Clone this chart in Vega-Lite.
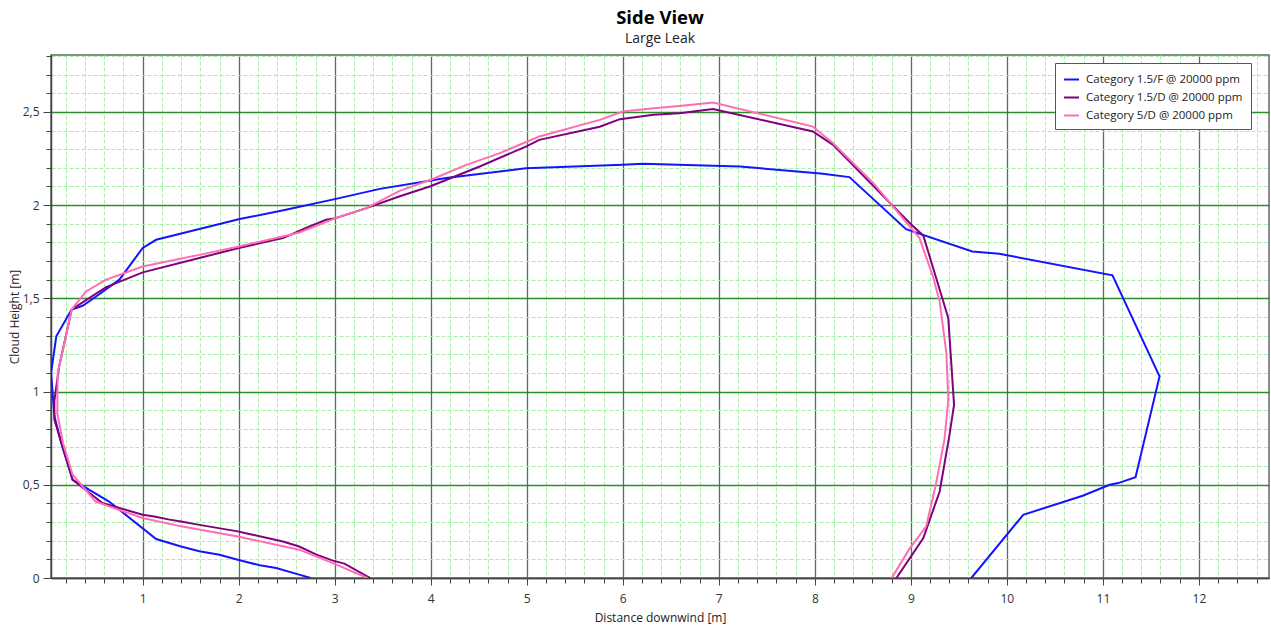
{
  "$schema": "https://vega.github.io/schema/vega-lite/v6.json",
  "autosize": "none",
  "width": 1218,
  "height": 523,
  "padding": {"left": 51, "top": 55, "right": 2, "bottom": 50},
  "background": "white",
  "title": {
    "text": "Side View",
    "subtitle": "Large Leak",
    "anchor": "middle",
    "frame": "group",
    "font": "Open Sans",
    "fontSize": 18.5,
    "fontWeight": "bold",
    "color": "#000000",
    "subtitleFont": "Open Sans",
    "subtitleFontSize": 14,
    "subtitleColor": "#222222",
    "subtitlePadding": 4,
    "offset": 4
  },
  "config": {
    "view": {"stroke": "#666666", "strokeWidth": 1.5},
    "axis": {
      "labelFont": "Open Sans",
      "labelFontSize": 12,
      "labelColor": "#333333",
      "titleFont": "Open Sans",
      "titleFontSize": 12,
      "titleFontWeight": "normal",
      "titleColor": "#222222",
      "domainColor": "#444444",
      "domainWidth": 1.5,
      "tickColor": "#444444",
      "labelOverlap": false,
      "labelFlush": false,
      "gridOpacity": 1
    }
  },
  "data": {
    "values": [
      {"s": "Category 1.5/F @ 20000 ppm", "i": 0, "x": 2.75, "y": 0},
      {"s": "Category 1.5/F @ 20000 ppm", "i": 1, "x": 2.63, "y": 0.018},
      {"s": "Category 1.5/F @ 20000 ppm", "i": 2, "x": 2.39, "y": 0.054},
      {"s": "Category 1.5/F @ 20000 ppm", "i": 3, "x": 2.22, "y": 0.068},
      {"s": "Category 1.5/F @ 20000 ppm", "i": 4, "x": 1.99, "y": 0.098},
      {"s": "Category 1.5/F @ 20000 ppm", "i": 5, "x": 1.8, "y": 0.125},
      {"s": "Category 1.5/F @ 20000 ppm", "i": 6, "x": 1.59, "y": 0.143},
      {"s": "Category 1.5/F @ 20000 ppm", "i": 7, "x": 1.4, "y": 0.169},
      {"s": "Category 1.5/F @ 20000 ppm", "i": 8, "x": 1.14, "y": 0.209},
      {"s": "Category 1.5/F @ 20000 ppm", "i": 9, "x": 0.65, "y": 0.41},
      {"s": "Category 1.5/F @ 20000 ppm", "i": 10, "x": 0.27, "y": 0.527},
      {"s": "Category 1.5/F @ 20000 ppm", "i": 11, "x": 0.15, "y": 0.725},
      {"s": "Category 1.5/F @ 20000 ppm", "i": 12, "x": 0.08, "y": 0.87},
      {"s": "Category 1.5/F @ 20000 ppm", "i": 13, "x": 0.046, "y": 1.1},
      {"s": "Category 1.5/F @ 20000 ppm", "i": 14, "x": 0.1, "y": 1.296},
      {"s": "Category 1.5/F @ 20000 ppm", "i": 15, "x": 0.26, "y": 1.44},
      {"s": "Category 1.5/F @ 20000 ppm", "i": 16, "x": 0.375, "y": 1.46},
      {"s": "Category 1.5/F @ 20000 ppm", "i": 17, "x": 0.515, "y": 1.51},
      {"s": "Category 1.5/F @ 20000 ppm", "i": 18, "x": 0.757, "y": 1.6},
      {"s": "Category 1.5/F @ 20000 ppm", "i": 19, "x": 1.0, "y": 1.77},
      {"s": "Category 1.5/F @ 20000 ppm", "i": 20, "x": 1.14, "y": 1.814},
      {"s": "Category 1.5/F @ 20000 ppm", "i": 21, "x": 2.01, "y": 1.925},
      {"s": "Category 1.5/F @ 20000 ppm", "i": 22, "x": 2.49, "y": 1.975},
      {"s": "Category 1.5/F @ 20000 ppm", "i": 23, "x": 3.0, "y": 2.032},
      {"s": "Category 1.5/F @ 20000 ppm", "i": 24, "x": 3.47, "y": 2.087},
      {"s": "Category 1.5/F @ 20000 ppm", "i": 25, "x": 4.16, "y": 2.145},
      {"s": "Category 1.5/F @ 20000 ppm", "i": 26, "x": 4.99, "y": 2.198},
      {"s": "Category 1.5/F @ 20000 ppm", "i": 27, "x": 6.0, "y": 2.216},
      {"s": "Category 1.5/F @ 20000 ppm", "i": 28, "x": 6.21, "y": 2.222},
      {"s": "Category 1.5/F @ 20000 ppm", "i": 29, "x": 7.22, "y": 2.207},
      {"s": "Category 1.5/F @ 20000 ppm", "i": 30, "x": 8.06, "y": 2.17},
      {"s": "Category 1.5/F @ 20000 ppm", "i": 31, "x": 8.36, "y": 2.15},
      {"s": "Category 1.5/F @ 20000 ppm", "i": 32, "x": 8.95, "y": 1.871},
      {"s": "Category 1.5/F @ 20000 ppm", "i": 33, "x": 9.64, "y": 1.751},
      {"s": "Category 1.5/F @ 20000 ppm", "i": 34, "x": 9.92, "y": 1.739},
      {"s": "Category 1.5/F @ 20000 ppm", "i": 35, "x": 11.1, "y": 1.623},
      {"s": "Category 1.5/F @ 20000 ppm", "i": 36, "x": 11.59, "y": 1.081},
      {"s": "Category 1.5/F @ 20000 ppm", "i": 37, "x": 11.34, "y": 0.541},
      {"s": "Category 1.5/F @ 20000 ppm", "i": 38, "x": 11.16, "y": 0.509},
      {"s": "Category 1.5/F @ 20000 ppm", "i": 39, "x": 11.07, "y": 0.5},
      {"s": "Category 1.5/F @ 20000 ppm", "i": 40, "x": 10.79, "y": 0.441},
      {"s": "Category 1.5/F @ 20000 ppm", "i": 41, "x": 10.17, "y": 0.339},
      {"s": "Category 1.5/F @ 20000 ppm", "i": 42, "x": 9.63, "y": 0},

      {"s": "Category 1.5/D @ 20000 ppm", "i": 0, "x": 3.37, "y": 0},
      {"s": "Category 1.5/D @ 20000 ppm", "i": 1, "x": 3.1, "y": 0.077},
      {"s": "Category 1.5/D @ 20000 ppm", "i": 2, "x": 2.98, "y": 0.093},
      {"s": "Category 1.5/D @ 20000 ppm", "i": 3, "x": 2.81, "y": 0.125},
      {"s": "Category 1.5/D @ 20000 ppm", "i": 4, "x": 2.63, "y": 0.169},
      {"s": "Category 1.5/D @ 20000 ppm", "i": 5, "x": 2.46, "y": 0.196},
      {"s": "Category 1.5/D @ 20000 ppm", "i": 6, "x": 2.11, "y": 0.236},
      {"s": "Category 1.5/D @ 20000 ppm", "i": 7, "x": 1.99, "y": 0.25},
      {"s": "Category 1.5/D @ 20000 ppm", "i": 8, "x": 1.59, "y": 0.285},
      {"s": "Category 1.5/D @ 20000 ppm", "i": 9, "x": 1.4, "y": 0.303},
      {"s": "Category 1.5/D @ 20000 ppm", "i": 10, "x": 1.28, "y": 0.313},
      {"s": "Category 1.5/D @ 20000 ppm", "i": 11, "x": 1.12, "y": 0.33},
      {"s": "Category 1.5/D @ 20000 ppm", "i": 12, "x": 1.0, "y": 0.339},
      {"s": "Category 1.5/D @ 20000 ppm", "i": 13, "x": 0.58, "y": 0.402},
      {"s": "Category 1.5/D @ 20000 ppm", "i": 14, "x": 0.27, "y": 0.527},
      {"s": "Category 1.5/D @ 20000 ppm", "i": 15, "x": 0.15, "y": 0.732},
      {"s": "Category 1.5/D @ 20000 ppm", "i": 16, "x": 0.08, "y": 0.85},
      {"s": "Category 1.5/D @ 20000 ppm", "i": 17, "x": 0.08, "y": 0.95},
      {"s": "Category 1.5/D @ 20000 ppm", "i": 18, "x": 0.13, "y": 1.135},
      {"s": "Category 1.5/D @ 20000 ppm", "i": 19, "x": 0.26, "y": 1.44},
      {"s": "Category 1.5/D @ 20000 ppm", "i": 20, "x": 0.41, "y": 1.49},
      {"s": "Category 1.5/D @ 20000 ppm", "i": 21, "x": 0.62, "y": 1.56},
      {"s": "Category 1.5/D @ 20000 ppm", "i": 22, "x": 1.0, "y": 1.639},
      {"s": "Category 1.5/D @ 20000 ppm", "i": 23, "x": 1.59, "y": 1.716},
      {"s": "Category 1.5/D @ 20000 ppm", "i": 24, "x": 2.0, "y": 1.77},
      {"s": "Category 1.5/D @ 20000 ppm", "i": 25, "x": 2.46, "y": 1.823},
      {"s": "Category 1.5/D @ 20000 ppm", "i": 26, "x": 2.7, "y": 1.877},
      {"s": "Category 1.5/D @ 20000 ppm", "i": 27, "x": 2.91, "y": 1.921},
      {"s": "Category 1.5/D @ 20000 ppm", "i": 28, "x": 3.01, "y": 1.93},
      {"s": "Category 1.5/D @ 20000 ppm", "i": 29, "x": 3.33, "y": 1.984},
      {"s": "Category 1.5/D @ 20000 ppm", "i": 30, "x": 3.67, "y": 2.046},
      {"s": "Category 1.5/D @ 20000 ppm", "i": 31, "x": 3.99, "y": 2.1},
      {"s": "Category 1.5/D @ 20000 ppm", "i": 32, "x": 4.51, "y": 2.207},
      {"s": "Category 1.5/D @ 20000 ppm", "i": 33, "x": 4.99, "y": 2.314},
      {"s": "Category 1.5/D @ 20000 ppm", "i": 34, "x": 5.13, "y": 2.35},
      {"s": "Category 1.5/D @ 20000 ppm", "i": 35, "x": 5.76, "y": 2.42},
      {"s": "Category 1.5/D @ 20000 ppm", "i": 36, "x": 5.97, "y": 2.461},
      {"s": "Category 1.5/D @ 20000 ppm", "i": 37, "x": 6.32, "y": 2.484},
      {"s": "Category 1.5/D @ 20000 ppm", "i": 38, "x": 6.59, "y": 2.493},
      {"s": "Category 1.5/D @ 20000 ppm", "i": 39, "x": 6.94, "y": 2.515},
      {"s": "Category 1.5/D @ 20000 ppm", "i": 40, "x": 7.98, "y": 2.395},
      {"s": "Category 1.5/D @ 20000 ppm", "i": 41, "x": 8.19, "y": 2.323},
      {"s": "Category 1.5/D @ 20000 ppm", "i": 42, "x": 8.99, "y": 1.903},
      {"s": "Category 1.5/D @ 20000 ppm", "i": 43, "x": 9.13, "y": 1.836},
      {"s": "Category 1.5/D @ 20000 ppm", "i": 44, "x": 9.39, "y": 1.394},
      {"s": "Category 1.5/D @ 20000 ppm", "i": 45, "x": 9.45, "y": 0.929},
      {"s": "Category 1.5/D @ 20000 ppm", "i": 46, "x": 9.4, "y": 0.76},
      {"s": "Category 1.5/D @ 20000 ppm", "i": 47, "x": 9.3, "y": 0.464},
      {"s": "Category 1.5/D @ 20000 ppm", "i": 48, "x": 9.13, "y": 0.214},
      {"s": "Category 1.5/D @ 20000 ppm", "i": 49, "x": 8.85, "y": 0},

      {"s": "Category 5/D @ 20000 ppm", "i": 0, "x": 3.34, "y": 0},
      {"s": "Category 5/D @ 20000 ppm", "i": 1, "x": 2.98, "y": 0.08},
      {"s": "Category 5/D @ 20000 ppm", "i": 2, "x": 2.63, "y": 0.152},
      {"s": "Category 5/D @ 20000 ppm", "i": 3, "x": 2.11, "y": 0.209},
      {"s": "Category 5/D @ 20000 ppm", "i": 4, "x": 1.99, "y": 0.223},
      {"s": "Category 5/D @ 20000 ppm", "i": 5, "x": 1.4, "y": 0.277},
      {"s": "Category 5/D @ 20000 ppm", "i": 6, "x": 1.0, "y": 0.322},
      {"s": "Category 5/D @ 20000 ppm", "i": 7, "x": 0.65, "y": 0.384},
      {"s": "Category 5/D @ 20000 ppm", "i": 8, "x": 0.51, "y": 0.41},
      {"s": "Category 5/D @ 20000 ppm", "i": 9, "x": 0.27, "y": 0.554},
      {"s": "Category 5/D @ 20000 ppm", "i": 10, "x": 0.17, "y": 0.724},
      {"s": "Category 5/D @ 20000 ppm", "i": 11, "x": 0.11, "y": 0.885},
      {"s": "Category 5/D @ 20000 ppm", "i": 12, "x": 0.115, "y": 1.1},
      {"s": "Category 5/D @ 20000 ppm", "i": 13, "x": 0.17, "y": 1.224},
      {"s": "Category 5/D @ 20000 ppm", "i": 14, "x": 0.26, "y": 1.44},
      {"s": "Category 5/D @ 20000 ppm", "i": 15, "x": 0.41, "y": 1.537},
      {"s": "Category 5/D @ 20000 ppm", "i": 16, "x": 0.62, "y": 1.6},
      {"s": "Category 5/D @ 20000 ppm", "i": 17, "x": 1.0, "y": 1.671},
      {"s": "Category 5/D @ 20000 ppm", "i": 18, "x": 1.59, "y": 1.733},
      {"s": "Category 5/D @ 20000 ppm", "i": 19, "x": 2.0, "y": 1.778},
      {"s": "Category 5/D @ 20000 ppm", "i": 20, "x": 2.46, "y": 1.832},
      {"s": "Category 5/D @ 20000 ppm", "i": 21, "x": 2.63, "y": 1.853},
      {"s": "Category 5/D @ 20000 ppm", "i": 22, "x": 3.01, "y": 1.93},
      {"s": "Category 5/D @ 20000 ppm", "i": 23, "x": 3.33, "y": 1.984},
      {"s": "Category 5/D @ 20000 ppm", "i": 24, "x": 3.67, "y": 2.075},
      {"s": "Category 5/D @ 20000 ppm", "i": 25, "x": 4.02, "y": 2.14},
      {"s": "Category 5/D @ 20000 ppm", "i": 26, "x": 4.37, "y": 2.216},
      {"s": "Category 5/D @ 20000 ppm", "i": 27, "x": 4.72, "y": 2.279},
      {"s": "Category 5/D @ 20000 ppm", "i": 28, "x": 5.13, "y": 2.368},
      {"s": "Category 5/D @ 20000 ppm", "i": 29, "x": 5.76, "y": 2.457},
      {"s": "Category 5/D @ 20000 ppm", "i": 30, "x": 6.0, "y": 2.502},
      {"s": "Category 5/D @ 20000 ppm", "i": 31, "x": 6.32, "y": 2.52},
      {"s": "Category 5/D @ 20000 ppm", "i": 32, "x": 6.59, "y": 2.532},
      {"s": "Category 5/D @ 20000 ppm", "i": 33, "x": 6.94, "y": 2.55},
      {"s": "Category 5/D @ 20000 ppm", "i": 34, "x": 7.98, "y": 2.421},
      {"s": "Category 5/D @ 20000 ppm", "i": 35, "x": 8.19, "y": 2.332},
      {"s": "Category 5/D @ 20000 ppm", "i": 36, "x": 8.61, "y": 2.118},
      {"s": "Category 5/D @ 20000 ppm", "i": 37, "x": 8.99, "y": 1.885},
      {"s": "Category 5/D @ 20000 ppm", "i": 38, "x": 9.09, "y": 1.823},
      {"s": "Category 5/D @ 20000 ppm", "i": 39, "x": 9.23, "y": 1.617},
      {"s": "Category 5/D @ 20000 ppm", "i": 40, "x": 9.3, "y": 1.483},
      {"s": "Category 5/D @ 20000 ppm", "i": 41, "x": 9.37, "y": 1.206},
      {"s": "Category 5/D @ 20000 ppm", "i": 42, "x": 9.39, "y": 0.956},
      {"s": "Category 5/D @ 20000 ppm", "i": 43, "x": 9.35, "y": 0.742},
      {"s": "Category 5/D @ 20000 ppm", "i": 44, "x": 9.26, "y": 0.5},
      {"s": "Category 5/D @ 20000 ppm", "i": 45, "x": 9.16, "y": 0.277},
      {"s": "Category 5/D @ 20000 ppm", "i": 46, "x": 8.98, "y": 0.152},
      {"s": "Category 5/D @ 20000 ppm", "i": 47, "x": 8.8, "y": 0}
    ]
  },
  "mark": {"type": "line", "strokeWidth": 2, "clip": true},
  "encoding": {
    "x": {
      "field": "x",
      "type": "quantitative",
      "scale": {"domain": [0.045, 12.73], "nice": false, "zero": false},
      "axis": {
        "title": "Distance downwind [m]",
        "titlePadding": 8,
        "values": [0.2,0.4,0.6,0.8,1,1.2,1.4,1.6,1.8,2,2.2,2.4,2.6,2.8,3,3.2,3.4,3.6,3.8,4,4.2,4.4,4.6,4.8,5,5.2,5.4,5.6,5.8,6,6.2,6.4,6.6,6.8,7,7.2,7.4,7.6,7.8,8,8.2,8.4,8.6,8.8,9,9.2,9.4,9.6,9.8,10,10.2,10.4,10.6,10.8,11,11.2,11.4,11.6,11.8,12,12.2,12.4,12.6],
        "labelExpr": "abs(datum.value-round(datum.value))<0.01 ? format(datum.value,'d') : ''",
        "labelPadding": 8,
        "tickSize": {"condition": {"test": "abs(datum.value-round(datum.value))<0.01", "value": 7}, "value": 5},
        "gridColor": {"condition": {"test": "abs(datum.value-round(datum.value))<0.01", "value": "#2e8b2e"}, "value": "#a6f0a6"},
        "gridDash": {"condition": {"test": "abs(datum.value-round(datum.value))<0.01", "value": []}, "value": [4, 2]},
        "gridWidth": {"condition": {"test": "abs(datum.value-round(datum.value))<0.01", "value": 1.3}, "value": 1}
      }
    },
    "y": {
      "field": "y",
      "type": "quantitative",
      "scale": {"domain": [0, 2.805], "nice": false, "zero": false},
      "axis": {
        "title": "Cloud Height [m]",
        "titlePadding": 1,
        "values": [0,0.1,0.2,0.3,0.4,0.5,0.6,0.7,0.8,0.9,1,1.1,1.2,1.3,1.4,1.5,1.6,1.7,1.8,1.9,2,2.1,2.2,2.3,2.4,2.5,2.6,2.7,2.8],
        "labelExpr": "abs(datum.value*2-round(datum.value*2))<0.01 ? replace(format(datum.value,'~g'),'.',',') : ''",
        "labelPadding": 4,
        "tickSize": {"condition": {"test": "abs(datum.value*2-round(datum.value*2))<0.01", "value": 8}, "value": 5},
        "gridColor": {"condition": {"test": "abs(datum.value*2-round(datum.value*2))<0.01", "value": "#2e8b2e"}, "value": "#a6f0a6"},
        "gridDash": {"condition": {"test": "abs(datum.value*2-round(datum.value*2))<0.01", "value": []}, "value": [4, 2]},
        "gridWidth": {"condition": {"test": "abs(datum.value*2-round(datum.value*2))<0.01", "value": 1.3}, "value": 1}
      }
    },
    "color": {
      "field": "s",
      "type": "nominal",
      "scale": {
        "domain": ["Category 1.5/F @ 20000 ppm", "Category 1.5/D @ 20000 ppm", "Category 5/D @ 20000 ppm"],
        "range": ["#1414ff", "#800080", "#ff6eb4"]
      },
      "legend": {
        "title": null,
        "orient": "none",
        "legendX": 1004,
        "legendY": 8,
        "fillColor": "white",
        "strokeColor": "#555555",
        "padding": 8,
        "labelFont": "Open Sans",
        "labelFontSize": 11.5,
        "labelLimit": 0,
        "labelColor": "#222222",
        "symbolType": "stroke",
        "symbolStrokeWidth": 2,
        "symbolSize": 225,
        "rowPadding": 4,
        "labelOffset": 6
      }
    },
    "order": {"field": "i", "type": "quantitative"}
  }
}
